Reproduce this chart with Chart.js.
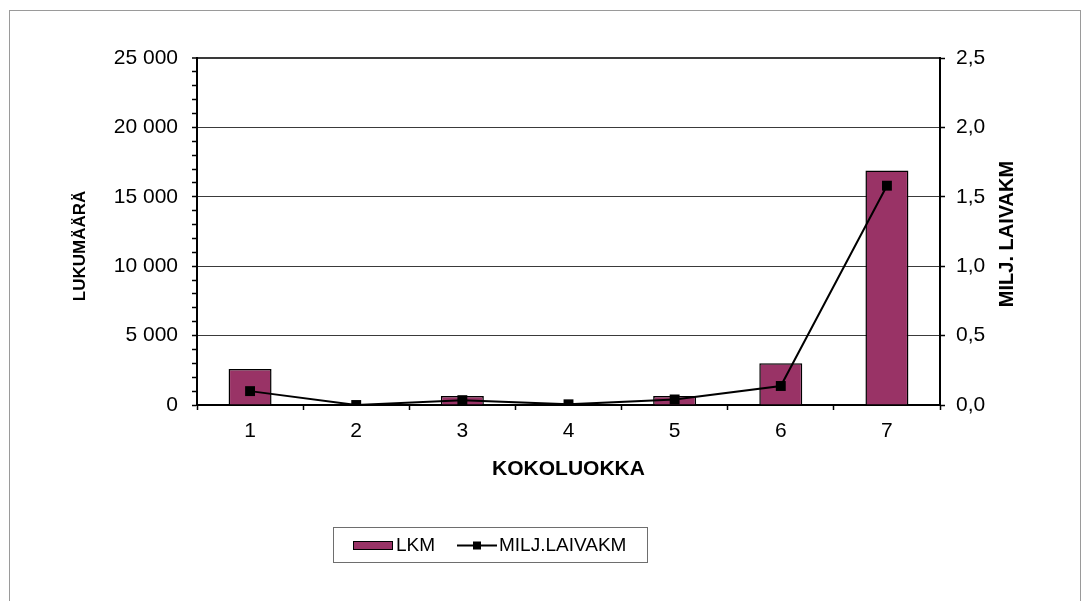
<!DOCTYPE html>
<html>
<head>
<meta charset="utf-8">
<script src="https://cdn.jsdelivr.net/npm/chart.js@4/dist/chart.umd.min.js"></script>
<style>
  html, body { margin: 0; padding: 0; background: #ffffff; }
  #wrap { width: 1082px; height: 601px; }
</style>
</head>
<body>
<div id="wrap"><canvas id="c" width="1082" height="601"></canvas></div>
<script>
// Size classes and the two measured series
const categories = ['1', '2', '3', '4', '5', '6', '7'];
const lkmValues = [2600, 0, 650, 0, 650, 3000, 16900];
const laivakmValues = [0.10, 0.0, 0.035, 0.005, 0.04, 0.137, 1.58];

// Axis ranges and labels
const leftMax = 25000, leftMajor = 5000, leftMinor = 1000;
const rightMax = 2.5, rightStep = 0.5;
const seriesNames = ['LKM', 'MILJ.LAIVAKM'];
const xTitle = 'KOKOLUOKKA';
const leftTitle = 'LUKUMÄÄRÄ';
const rightTitle = 'MILJ. LAIVAKM';

const FONT = '"Liberation Sans", Arial, Helvetica, sans-serif';
const BAR_COLOR = '#993366';

Chart.defaults.font.family = FONT;
Chart.defaults.color = '#000';

function spaced(v) {
  return String(Math.round(v)).replace(/\B(?=(\d{3})+(?!\d))/g, ' ');
}
function comma(v) {
  return v.toFixed(1).replace('.', ',');
}

// Page frame and white background
const framePlugin = {
  id: 'frame',
  beforeDraw(chart) {
    const ctx = chart.ctx;
    ctx.save();
    ctx.fillStyle = '#fff';
    ctx.fillRect(0, 0, chart.width, chart.height);
    ctx.strokeStyle = '#9a9a9a';
    ctx.lineWidth = 1;
    ctx.strokeRect(9.5, 10.5, 1071, 620);
    ctx.restore();
  }
};

// Axis titles
const titlesPlugin = {
  id: 'axisTitles',
  afterDraw(chart) {
    const ctx = chart.ctx;
    const area = chart.chartArea;
    ctx.save();
    ctx.fillStyle = '#000';
    ctx.textAlign = 'center';
    ctx.textBaseline = 'middle';

    ctx.font = 'bold 21px ' + FONT;
    ctx.fillText(xTitle, (area.left + area.right) / 2, 469);

    ctx.font = 'bold 17px ' + FONT;
    ctx.save();
    ctx.translate(80, 246);
    ctx.rotate(-Math.PI / 2);
    ctx.fillText(leftTitle, 0, 0);
    ctx.restore();

    ctx.font = 'bold 20px ' + FONT;
    ctx.save();
    ctx.translate(1007, 234);
    ctx.rotate(-Math.PI / 2);
    ctx.fillText(rightTitle, 0, 0);
    ctx.restore();
    ctx.restore();
  }
};

// Boxed legend under the axis title
const legendPlugin = {
  id: 'boxLegend',
  afterDraw(chart) {
    const ctx = chart.ctx;
    const ds = chart.data.datasets;
    ctx.save();
    ctx.strokeStyle = '#6e6e6e';
    ctx.lineWidth = 1;
    ctx.strokeRect(333.5, 527.5, 314, 35);

    const cy = 545.5;
    // bar swatch
    ctx.fillStyle = ds[0].backgroundColor;
    ctx.fillRect(353, 541, 40, 9);
    ctx.strokeStyle = '#000';
    ctx.lineWidth = 1;
    ctx.strokeRect(353.5, 541.5, 39, 8);

    ctx.font = '19px ' + FONT;
    ctx.fillStyle = '#000';
    ctx.textAlign = 'left';
    ctx.textBaseline = 'middle';
    ctx.fillText(ds[0].label, 396, cy);

    // line swatch with marker
    ctx.beginPath();
    ctx.moveTo(457, cy);
    ctx.lineTo(497, cy);
    ctx.lineWidth = 2;
    ctx.strokeStyle = '#000';
    ctx.stroke();
    ctx.fillRect(473, cy - 4, 8, 8);

    ctx.fillText(ds[1].label, 499, cy);
    ctx.restore();
  }
};

new Chart(document.getElementById('c'), {
  type: 'bar',
  data: {
    labels: categories,
    datasets: [
      {
        type: 'bar',
        label: seriesNames[0],
        data: lkmValues,
        yAxisID: 'y',
        backgroundColor: BAR_COLOR,
        borderColor: '#000',
        borderWidth: 1.5,
        borderSkipped: 'start',
        barPercentage: 0.9,
        categoryPercentage: 0.45,
        order: 2
      },
      {
        type: 'line',
        label: seriesNames[1],
        data: laivakmValues,
        yAxisID: 'y1',
        borderColor: '#000',
        borderWidth: 2,
        backgroundColor: '#000',
        pointStyle: 'rect',
        pointRadius: 7,
        pointBackgroundColor: '#000',
        pointBorderColor: '#000',
        pointBorderWidth: 0,
        tension: 0,
        order: 1
      }
    ]
  },
  options: {
    responsive: false,
    animation: false,
    layout: { padding: { top: 58, left: 0, right: 0, bottom: 0 } },
    plugins: {
      legend: { display: false },
      tooltip: { enabled: false },
      title: { display: false }
    },
    scales: {
      x: {
        offset: true,
        afterFit(scale) { scale.height = 196; },
        grid: {
          offset: true,
          drawOnChartArea: false,
          drawTicks: true,
          tickLength: 5,
          tickColor: '#000',
          tickWidth: 1.5
        },
        border: { display: true, color: '#000', width: 2 },
        ticks: { font: { size: 21 }, color: '#000', padding: 9, maxRotation: 0 }
      },
      y: {
        position: 'left',
        min: 0,
        max: leftMax,
        afterFit(scale) { scale.width = 197; },
        afterBuildTicks(scale) {
          const t = [];
          for (let v = 0; v <= leftMax; v += leftMinor) t.push({ value: v });
          scale.ticks = t;
        },
        grid: {
          drawTicks: true,
          tickLength: 5,
          color: (c) => (c.tick && c.tick.value % leftMajor === 0) ? '#3a3a3a' : 'rgba(0,0,0,0)',
          lineWidth: (c) => (c.tick && c.tick.value === leftMax) ? 2 : 1,
          tickColor: '#000',
          tickWidth: 1.5
        },
        border: { display: true, color: '#000', width: 2 },
        ticks: {
          autoSkip: false,
          font: { size: 21 },
          color: '#000',
          padding: 14,
          callback: (v) => (v % leftMajor === 0) ? spaced(v) : ''
        }
      },
      y1: {
        position: 'right',
        min: 0,
        max: rightMax,
        afterFit(scale) { scale.width = 142; },
        grid: {
          drawOnChartArea: false,
          drawTicks: true,
          tickLength: 5,
          tickColor: '#000',
          tickWidth: 1.5
        },
        border: { display: true, color: '#000', width: 2 },
        ticks: {
          stepSize: rightStep,
          font: { size: 21 },
          color: '#000',
          padding: 11,
          callback: (v) => comma(v)
        }
      }
    }
  },
  plugins: [framePlugin, titlesPlugin, legendPlugin]
});
</script>
</body>
</html>
